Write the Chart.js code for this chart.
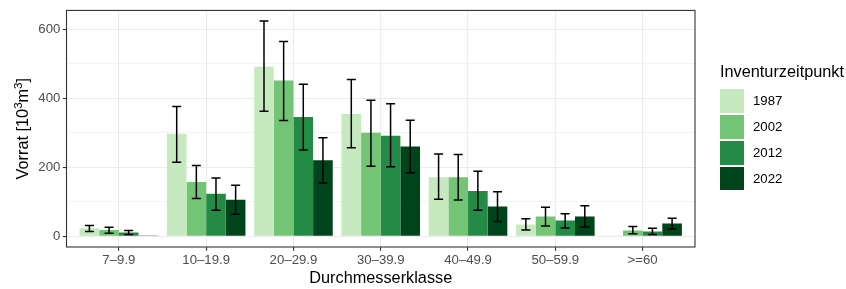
<!DOCTYPE html>
<html>
<head>
<meta charset="utf-8">
<script src="https://cdn.jsdelivr.net/npm/chart.js@4"></script>
<style>
  html, body { margin: 0; padding: 0; background: #fff; }
  #wrap { position: relative; width: 846px; height: 289px; font-family: 'Liberation Sans', Arial, sans-serif; }
  #legend { position: absolute; left: 720px; top: 63px; }
  #legend .title { font-size: 16.3px; line-height: 16px; color: #000; margin-bottom: 9px; white-space: nowrap; }
  #legend .row { display: flex; align-items: center; height: 25.9px; }
  #legend .key { width: 24px; height: 23.6px; }
  #legend .lab { font-size: 13.2px; color: #000; margin-left: 9px; }
</style>
</head>
<body>
<div id="wrap">
  <canvas id="c" width="846" height="289"></canvas>
  <div id="legend"></div>
</div>
<script>
// ---- data ----
const categories = ["7–9.9", "10–19.9", "20–29.9", "30–39.9", "40–49.9", "50–59.9", ">=60"];
const years = ["1987", "2002", "2012", "2022"];
const colors = ["#C7E9C0", "#74C476", "#238B45", "#00441B"];

const v1987 = [23, 297, 491, 354, 171, 34, 1];
const v2002 = [18, 157, 451, 300, 171, 57, 17];
const v2012 = [11, 123, 345, 291, 131, 46, 14];
const v2022 = [1, 106, 220, 260, 86, 57, 37];

const lo1987 = [14, 214, 362, 256, 107, 18, null];
const hi1987 = [31, 376, 623, 454, 238, 51, null];
const lo2002 = [9, 109, 335, 203, 105, 30, 7];
const hi2002 = [26, 205, 564, 394, 237, 84, 28];
const lo2012 = [5, 75, 250, 201, 75, 24, 5];
const hi2012 = [17, 169, 440, 384, 188, 65, 23];
const lo2022 = [null, 64, 154, 184, 43, 27, 21];
const hi2022 = [null, 148, 285, 336, 129, 88, 52];

const values = [v1987, v2002, v2012, v2022];
const lows = [lo1987, lo2002, lo2012, lo2022];
const highs = [hi1987, hi2002, hi2012, hi2022];

const GRID = "#EBEBEB";
const DARK = "#333333";
const TICK = "#4D4D4D";
const FONT = "'Liberation Sans', Arial, sans-serif";

Chart.defaults.font.family = FONT;

// error bars drawn from the y scale
const errorBars = {
  id: "errorBars",
  afterDatasetsDraw(chart) {
    const ctx = chart.ctx, ys = chart.scales.y;
    ctx.save();
    ctx.strokeStyle = "#000";
    ctx.lineWidth = 1.5;
    chart.data.datasets.forEach((ds, i) => {
      const meta = chart.getDatasetMeta(i);
      meta.data.forEach((bar, j) => {
        const lo = lows[i][j], hi = highs[i][j];
        if (lo == null || hi == null) return;
        const { x, width } = bar.getProps(["x", "width"], true);
        const h = width * 0.23;
        const y1 = ys.getPixelForValue(lo), y2 = ys.getPixelForValue(hi);
        ctx.beginPath();
        ctx.moveTo(x, y1); ctx.lineTo(x, y2);
        ctx.moveTo(x - h, y1); ctx.lineTo(x + h, y1);
        ctx.moveTo(x - h, y2); ctx.lineTo(x + h, y2);
        ctx.stroke();
      });
    });
    ctx.restore();
  },
};

// panel border + y title with real superscripts
const panelBorder = {
  id: "panelBorder",
  afterDraw(chart) {
    const a = chart.chartArea, ctx = chart.ctx;
    ctx.save();
    ctx.strokeStyle = DARK;
    ctx.lineWidth = 1.1;
    ctx.strokeRect(a.left, a.top, a.right - a.left, a.bottom - a.top);
    ctx.restore();

    const parts = [["Vorrat [10", 16.3, 0], ["3", 11.5, -6.5], ["m", 16.3, 0], ["3", 11.5, -6.5], ["]", 16.3, 0]];
    ctx.save();
    ctx.fillStyle = "#000";
    ctx.textBaseline = "alphabetic";
    ctx.textAlign = "left";
    let total = 0;
    parts.forEach(([s, f]) => { ctx.font = f + "px " + FONT; total += ctx.measureText(s).width; });
    ctx.translate(28, (a.top + a.bottom) / 2);
    ctx.rotate(-Math.PI / 2);
    let x = -total / 2;
    parts.forEach(([s, f, dy]) => {
      ctx.font = f + "px " + FONT;
      ctx.fillText(s, x, dy);
      x += ctx.measureText(s).width;
    });
    ctx.restore();
  },
};

const isMajor = (c) => c.tick && c.tick.value % 200 === 0;

new Chart(document.getElementById("c"), {
  type: "bar",
  data: {
    labels: categories,
    datasets: years.map((y, i) => ({
      label: y, data: values[i], backgroundColor: colors[i],
      borderWidth: 0, categoryPercentage: 0.9, barPercentage: 1.0,
    })),
  },
  options: {
    responsive: false, animation: false,
    layout: { padding: { left: 0, top: 7, right: 151, bottom: 0 } },
    plugins: { legend: { display: false }, tooltip: { enabled: false } },
    scales: {
      x: {
        type: "category", offset: true,
        afterBuildTicks: (s) => { s._startValue = -0.6; s._valueRange = 7.2; },
        afterFit: (s) => { s.height = 42; },
        grid: { offset: false, color: GRID, lineWidth: 1.1, tickLength: 3.7, tickColor: DARK, tickWidth: 1.1 },
        border: { display: false },
        ticks: { color: TICK, font: { size: 13.2 }, padding: 1.5, maxRotation: 0, autoSkip: false },
        title: { display: true, text: "Durchmesserklasse", color: "#000", font: { size: 16.3 }, padding: { top: 0, bottom: 1 } },
      },
      y: {
        min: -31.1, max: 654,
        afterFit: (s) => { s.width = 66.5; },
        grid: {
          color: GRID,
          lineWidth: (c) => (isMajor(c) ? 1.1 : 0.55),
          tickLength: 3.7,
          tickColor: (c) => (isMajor(c) ? DARK : "rgba(0,0,0,0)"),
          tickWidth: 1.1,
        },
        border: { display: false },
        ticks: {
          stepSize: 100, includeBounds: false, autoSkip: false, padding: 2.5,
          color: TICK, font: { size: 13.2 },
          callback: (v) => (v % 200 === 0 ? v : ""),
        },
        title: { display: false },
      },
    },
  },
  plugins: [errorBars, panelBorder],
});

// legend
const lg = document.getElementById("legend");
const t = document.createElement("div");
t.className = "title"; t.textContent = "Inventurzeitpunkt";
lg.appendChild(t);
years.forEach((y, i) => {
  const r = document.createElement("div"); r.className = "row";
  const k = document.createElement("div"); k.className = "key"; k.style.background = colors[i];
  const l = document.createElement("div"); l.className = "lab"; l.textContent = y;
  r.appendChild(k); r.appendChild(l); lg.appendChild(r);
});
</script>
</body>
</html>
